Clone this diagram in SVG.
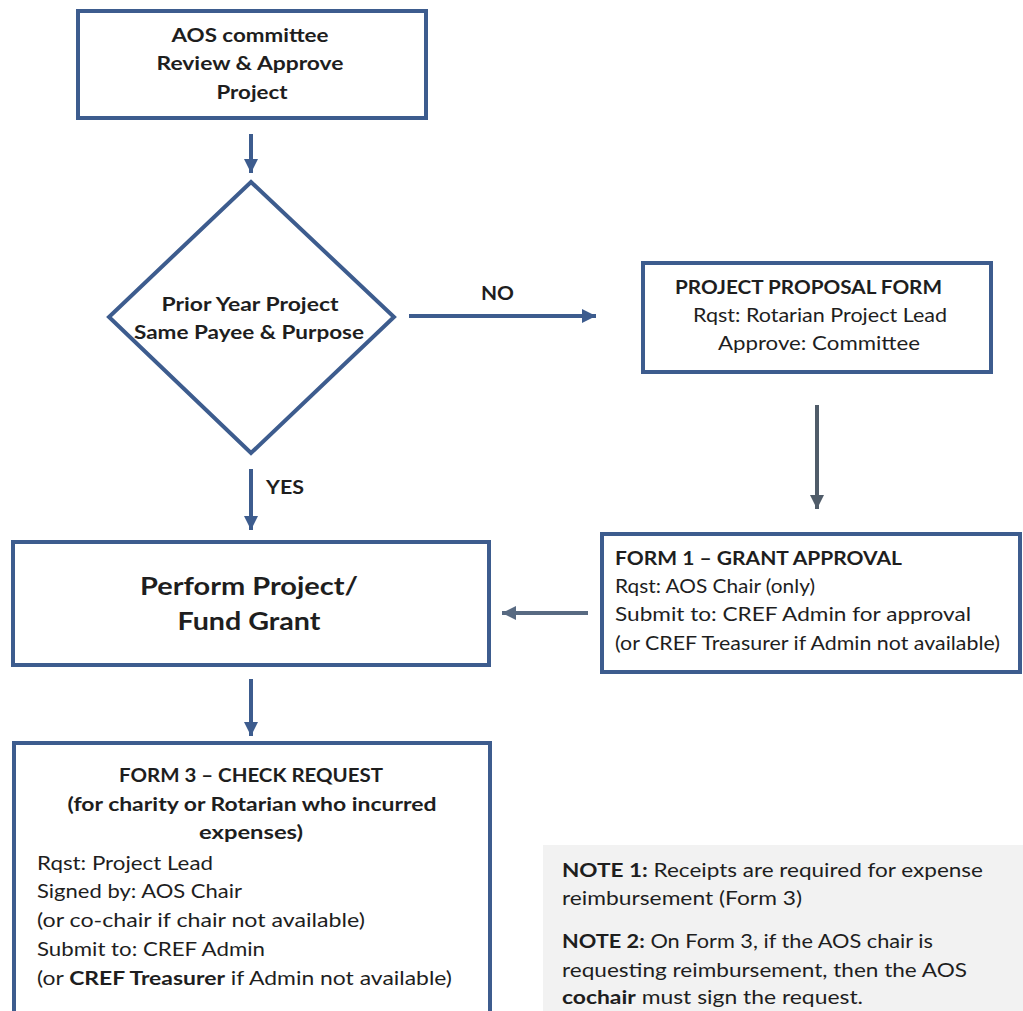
<svg xmlns="http://www.w3.org/2000/svg" width="1023" height="1011" viewBox="0 0 1023 1011">
<defs>
<style>
.box{fill:#ffffff;stroke:#3d5c8e;stroke-width:4}
.t{font-family:Lato,"Liberation Sans",sans-serif;fill:#1e1e1e;font-size:19px}
.b{font-weight:bold}
.c{text-anchor:middle}
.big{font-size:24px}
.n{font-size:19.5px}
.ln{stroke-width:4;fill:none}
</style>
<marker id="ah" viewBox="0 0 10 10" refX="10" refY="5" markerWidth="3.6" markerHeight="3.6" orient="auto" markerUnits="strokeWidth">
<path d="M0,0 L10,5 L0,10 z" fill="#3d5c8e"/>
</marker>
<marker id="ahg" viewBox="0 0 10 10" refX="10" refY="5" markerWidth="3.6" markerHeight="3.6" orient="auto" markerUnits="strokeWidth">
<path d="M0,0 L10,5 L0,10 z" fill="#505c69"/>
</marker>
<marker id="ahb" viewBox="0 0 10 10" refX="10" refY="5" markerWidth="3.6" markerHeight="3.6" orient="auto" markerUnits="strokeWidth">
<path d="M0,0 L10,5 L0,10 z" fill="#586a82"/>
</marker>
</defs>
<rect width="1023" height="1011" fill="#ffffff"/>

<g id="connectors">
<line class="ln" x1="251" y1="134" x2="251" y2="173" stroke="#3d5c8e" marker-end="url(#ah)"/>
<line class="ln" x1="409" y1="316" x2="596" y2="316" stroke="#3d5c8e" marker-end="url(#ah)"/>
<line class="ln" x1="817" y1="405" x2="817" y2="509" stroke="#505c69" marker-end="url(#ahg)"/>
<line class="ln" x1="251" y1="469" x2="251" y2="530" stroke="#3d5c8e" marker-end="url(#ah)"/>
<line class="ln" x1="588" y1="613" x2="502" y2="613" stroke="#586a82" marker-end="url(#ahb)"/>
<line class="ln" x1="251" y1="679" x2="251" y2="736" stroke="#3d5c8e" marker-end="url(#ah)"/>
<text class="t b" x="481" y="300" textLength="33" lengthAdjust="spacingAndGlyphs">NO</text>
<text class="t b" x="266" y="494" textLength="38" lengthAdjust="spacingAndGlyphs">YES</text>
</g>

<g id="node-aos">
<rect class="box" x="78" y="11" width="348" height="107"/>
<text class="t b c" x="250" y="42" textLength="157" lengthAdjust="spacingAndGlyphs">AOS committee</text>
<text class="t b c" x="250" y="70" textLength="187" lengthAdjust="spacingAndGlyphs">Review &amp; Approve</text>
<text class="t b c" x="252" y="99" textLength="71" lengthAdjust="spacingAndGlyphs">Project</text>
</g>

<g id="node-decision">
<polygon class="box" points="251,182 394,317 251,453 109,317"/>
<text class="t b c" x="250" y="311" textLength="177" lengthAdjust="spacingAndGlyphs">Prior Year Project</text>
<text class="t b c" x="249" y="339" textLength="230" lengthAdjust="spacingAndGlyphs">Same Payee &amp; Purpose</text>
</g>

<g id="node-proposal">
<rect class="box" x="643" y="263" width="348" height="109"/>
<text class="t b" x="675" y="294" textLength="267" lengthAdjust="spacingAndGlyphs">PROJECT PROPOSAL FORM</text>
<text class="t" x="693" y="322" textLength="254" lengthAdjust="spacingAndGlyphs">Rqst: Rotarian Project Lead</text>
<text class="t" x="718" y="350" textLength="202" lengthAdjust="spacingAndGlyphs">Approve: Committee</text>
</g>

<g id="node-form1">
<rect class="box" x="602" y="534" width="418" height="138"/>
<text class="t b" x="615" y="565" textLength="287" lengthAdjust="spacingAndGlyphs">FORM 1 – GRANT APPROVAL</text>
<text class="t" x="615" y="593" textLength="200" lengthAdjust="spacingAndGlyphs">Rqst: AOS Chair (only)</text>
<text class="t" x="615" y="621" textLength="356" lengthAdjust="spacingAndGlyphs">Submit to:  CREF Admin for approval</text>
<text class="t" x="615" y="650" textLength="385" lengthAdjust="spacingAndGlyphs">(or CREF Treasurer if Admin not available)</text>
</g>

<g id="node-perform">
<rect class="box" x="13" y="542" width="476" height="123"/>
<text class="t b c big" x="249" y="595" textLength="218" lengthAdjust="spacingAndGlyphs">Perform Project/</text>
<text class="t b c big" x="249" y="630" textLength="143" lengthAdjust="spacingAndGlyphs">Fund Grant</text>
</g>

<g id="node-form3">
<rect class="box" x="14" y="743" width="476" height="280"/>
<text class="t b c" x="251" y="782" textLength="264" lengthAdjust="spacingAndGlyphs">FORM 3 – CHECK REQUEST</text>
<text class="t b c" x="252" y="811" textLength="369" lengthAdjust="spacingAndGlyphs">(for charity or Rotarian who incurred</text>
<text class="t b c" x="251" y="839" textLength="104" lengthAdjust="spacingAndGlyphs">expenses)</text>
<text class="t" x="37" y="870" textLength="176" lengthAdjust="spacingAndGlyphs">Rqst: Project Lead</text>
<text class="t" x="37" y="898" textLength="205" lengthAdjust="spacingAndGlyphs">Signed by: AOS Chair</text>
<text class="t" x="37" y="927" textLength="328" lengthAdjust="spacingAndGlyphs">(or co-chair if chair not available)</text>
<text class="t" x="37" y="956" textLength="228" lengthAdjust="spacingAndGlyphs">Submit to: CREF Admin</text>
<text class="t" x="37" y="985" textLength="415" lengthAdjust="spacingAndGlyphs">(or <tspan class="b">CREF Treasurer</tspan> if Admin not available)</text>
</g>

<g id="node-notes">
<rect x="543" y="845" width="480" height="166" fill="#f2f2f2"/>
<text class="t n" x="562" y="877" textLength="421" lengthAdjust="spacingAndGlyphs"><tspan class="b">NOTE 1:</tspan> Receipts are required for expense</text>
<text class="t n" x="562" y="905" textLength="240" lengthAdjust="spacingAndGlyphs">reimbursement (Form 3)</text>
<text class="t n" x="562" y="948" textLength="371" lengthAdjust="spacingAndGlyphs"><tspan class="b">NOTE 2:</tspan> On Form 3,  if the AOS chair is</text>
<text class="t n" x="562" y="977" textLength="405" lengthAdjust="spacingAndGlyphs">requesting reimbursement, then the AOS</text>
<text class="t n" x="562" y="1004" textLength="301" lengthAdjust="spacingAndGlyphs"><tspan class="b">cochair</tspan> must sign the request.</text>
</g>
</svg>
